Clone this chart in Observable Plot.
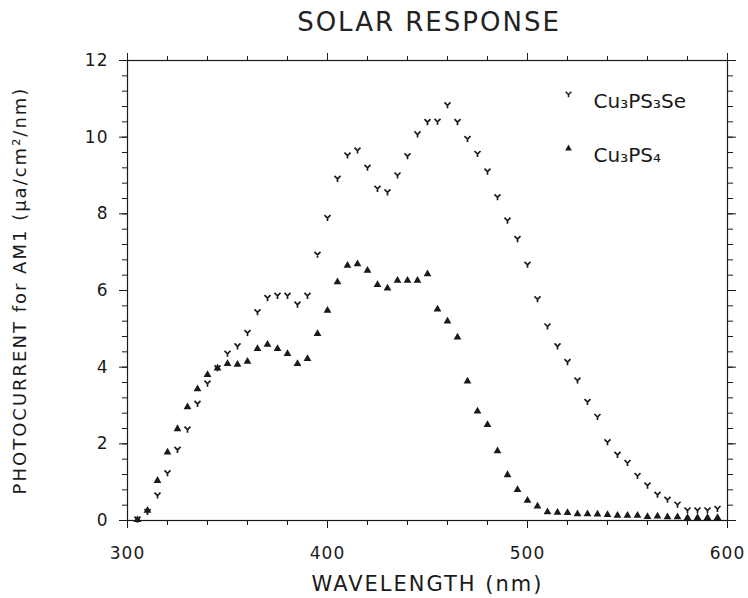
<!DOCTYPE html>
<html><head><meta charset="utf-8">
<script src="https://cdn.jsdelivr.net/npm/d3@7"></script>
<script src="https://cdn.jsdelivr.net/npm/@observablehq/plot@0.6"></script>
<style>
body{margin:0;background:#fff;}
#title{height:40px;text-align:center;font:26px "DejaVu Sans";letter-spacing:2px;line-height:44px;padding-left:110px;color:#222;box-sizing:border-box;}
</style></head><body>
<div id="title">SOLAR RESPONSE</div>
<div id="chart"></div>
<script>
const wavelength = [305,310,315,320,325,330,335,340,345,350,355,360,365,370,375,380,385,390,395,400,405,410,415,420,425,430,435,440,445,450,455,460,465,470,475,480,485,490,495,500,505,510,515,520,525,530,535,540,545,550,555,560,565,570,575,580,585,590,595];
const cu3ps3se = [0.02,0.22,0.65,1.23,1.84,2.37,3.04,3.57,3.97,4.35,4.54,4.89,5.43,5.80,5.86,5.86,5.63,5.86,6.93,7.89,8.91,9.52,9.65,9.20,8.65,8.56,9.00,9.50,10.07,10.39,10.40,10.83,10.39,9.95,9.56,9.10,8.43,7.82,7.34,6.67,5.77,5.06,4.54,4.13,3.65,3.09,2.70,2.04,1.71,1.50,1.16,0.91,0.67,0.54,0.41,0.26,0.26,0.26,0.30];
const cu3ps4 = [0.02,0.26,1.04,1.78,2.39,2.96,3.43,3.80,3.97,4.09,4.07,4.15,4.48,4.59,4.48,4.35,4.09,4.22,4.87,5.48,6.22,6.65,6.69,6.52,6.15,6.06,6.26,6.26,6.26,6.43,5.51,5.20,4.78,3.63,2.85,2.50,1.81,1.19,0.80,0.52,0.37,0.22,0.21,0.20,0.17,0.17,0.16,0.15,0.13,0.13,0.13,0.10,0.11,0.09,0.09,0.07,0.07,0.07,0.07];
const seriesNames = ["Cu₃PS₃Se", "Cu₃PS₄"];
const xTicks = [300, 400, 500, 600];
const yTicks = [0, 2, 4, 6, 8, 10, 12];
const xMinor = d3.range(300, 601, 20);
const yMinor = d3.range(0, 31).map(i => +(i * 0.4).toFixed(1));

const seA = wavelength.map((w, i) => ({w, v: cu3ps3se[i]}));
const psA = wavelength.map((w, i) => ({w, v: cu3ps4[i]}));
const ink = "#1a1a1a";

// "Y"-shaped plotter marker
const ySymbol = {
  draw(context, size) {
    const s = Math.sqrt(size) * 0.5;
    context.moveTo(-s, -s);
    context.lineTo(0, 0);
    context.lineTo(s, -s);
    context.moveTo(0, 0);
    context.lineTo(0, s);
  }
};

const chart = Plot.plot({
  width: 748, height: 558,
  marginLeft: 127, marginRight: 21, marginTop: 20, marginBottom: 78,
  x: {domain: [300, 600]},
  y: {domain: [0, 12]},
  style: {fontFamily: "DejaVu Sans", fontSize: "17px", color: ink, background: "#fff", overflow: "visible"},
  marks: [
    Plot.frame({stroke: ink, strokeWidth: 1.2}),
    Plot.axisY(yMinor, {anchor: "left", tickSize: 5, tickFormat: () => "", label: null}),
    Plot.axisY(yTicks, {anchor: "left", tickSize: 8, tickPadding: 11, label: "PHOTOCURRENT for AM1 (μa/cm²/nm)", labelAnchor: "center", labelOffset: 114, labelArrow: false}),
    Plot.axisY(yMinor, {anchor: "right", tickSize: 5, tickFormat: () => "", label: null}),
    Plot.axisY(yTicks, {anchor: "right", tickSize: 8, tickFormat: () => "", label: null}),
    Plot.axisX(xMinor, {anchor: "top", tickSize: 5, tickFormat: () => "", label: null}),
    Plot.axisX(xTicks, {anchor: "top", tickSize: 8, tickFormat: () => "", label: null}),
    Plot.axisX(xMinor, {anchor: "bottom", tickSize: 5, tickFormat: () => "", label: null}),
    Plot.axisX(xTicks, {anchor: "bottom", tickSize: 8, tickPadding: 18, label: "WAVELENGTH (nm)", labelAnchor: "center", labelOffset: 70, labelArrow: false}),
    Plot.dot(seA, {x: "w", y: "v", symbol: ySymbol, r: 3.4, fill: "none", stroke: ink, strokeWidth: 1.7}),
    Plot.dot(psA, {x: "w", y: "v", symbol: "triangle", r: 2.9, fill: ink}),
    Plot.dot([seriesNames[0]], {frameAnchor: "top-right", dx: -159, dy: 34, symbol: ySymbol, r: 3.2, fill: "none", stroke: ink, strokeWidth: 1.5}),
    Plot.text([seriesNames[0]], {frameAnchor: "top-right", dx: -134, dy: 33, textAnchor: "start", fontSize: 20, fill: ink}),
    Plot.dot([seriesNames[1]], {frameAnchor: "top-right", dx: -159, dy: 88, symbol: "triangle", r: 2.5, fill: ink}),
    Plot.text([seriesNames[1]], {frameAnchor: "top-right", dx: -134, dy: 87, textAnchor: "start", fontSize: 20, fill: ink})
  ]
});
document.getElementById("chart").appendChild(chart);
const svg = d3.select(chart);
svg.selectAll('[aria-label="y-axis label"] text, [aria-label="x-axis label"] text').style("letter-spacing", "2px");
svg.selectAll('[aria-label="x-axis label"] text').style("font-size", "21px");
svg.selectAll('[aria-label="y-axis label"] text').style("font-size", "18px");
svg.selectAll('[aria-label="y-axis tick label"] text, [aria-label="x-axis tick label"] text').style("letter-spacing", "1px");
</script>
</body></html>
